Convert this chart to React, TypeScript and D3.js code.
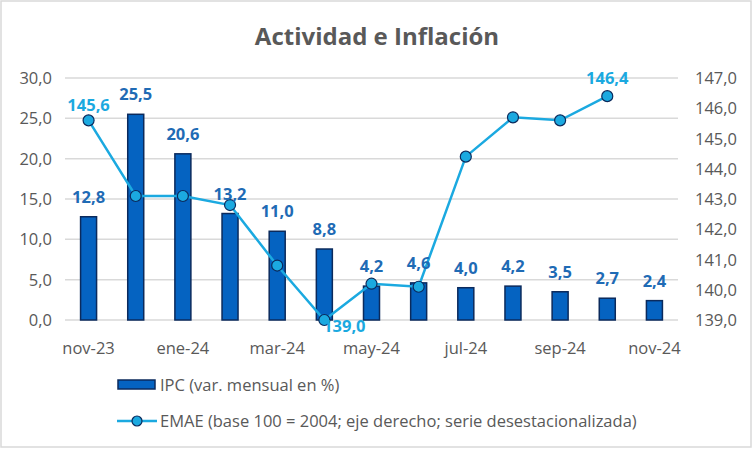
import * as d3 from 'd3';

const months = ['nov-23', 'dic-23', 'ene-24', 'feb-24', 'mar-24', 'abr-24', 'may-24', 'jun-24', 'jul-24', 'ago-24', 'sep-24', 'oct-24', 'nov-24'];
const ipc = [12.8, 25.5, 20.6, 13.2, 11.0, 8.8, 4.2, 4.6, 4.0, 4.2, 3.5, 2.7, 2.4];
const emae: (number | null)[] = [145.6, 143.1, 143.1, 142.8, 140.8, 139.0, 140.2, 140.1, 144.4, 145.7, 145.6, 146.4, null];
const emaeLabelled = ['nov-23', 'abr-24', 'oct-24'];
const leftTicks = [0, 5, 10, 15, 20, 25, 30];
const rightTicks = [139, 140, 141, 142, 143, 144, 145, 146, 147];
const xLabels = ['nov-23', 'ene-24', 'mar-24', 'may-24', 'jul-24', 'sep-24', 'nov-24'];

const W = 754;
const H = 450;
const font = '"Open Sans", sans-serif';
const gray = '#595959';
const barFill = '#0563C1';
const barStroke = '#0B2A5C';
const barLabel = '#1F6BB5';
const lineColor = '#1BA9E0';

const fmt = (v: number) => v.toFixed(1).replace('.', ',');

export default function App() {
  const x = d3.scaleBand<string>().domain(months).range([65, 678]);
  const yL = d3.scaleLinear().domain([0, 30]).range([320, 78]);
  const yR = d3.scaleLinear().domain([139, 147]).range([320, 78]);
  const cx = (m: string) => (x(m) ?? 0) + x.bandwidth() / 2;
  const barW = 16;

  const pts = months
    .map((m, i) => ({ m, v: emae[i] }))
    .filter((d) => d.v !== null) as { m: string; v: number }[];
  const line = d3
    .line<{ m: string; v: number }>()
    .x((d) => cx(d.m))
    .y((d) => yR(d.v));

  // min label sits below-right of its point, the others above
  const labelPos = (d: { m: string; v: number }) =>
    d.m === 'abr-24' ? { dx: 20, dy: 12 } : d.m === 'oct-24' ? { dx: 0, dy: -12 } : { dx: 0, dy: -9 };

  return (
    <svg width={W} height={H} style={{ position: 'absolute', left: 0, top: 0, background: '#fff' }} fontFamily={font}>
      <rect x={1} y={1} width={W - 4} height={H - 4} fill="#fff" stroke="#D9D9D9" strokeWidth={1.5} />
      <text x={377} y={45} textAnchor="middle" fontSize={24} fontWeight="bold" fill={gray}>
        Actividad e Inflación
      </text>

      {leftTicks.map((t) => (
        <g key={t}>
          <line x1={65} x2={678} y1={yL(t)} y2={yL(t)} stroke="#D9D9D9" strokeWidth={1.5} />
          <text x={52} y={yL(t) + 6} textAnchor="end" fontSize={16.5} fill={gray}>
            {fmt(t)}
          </text>
        </g>
      ))}
      {rightTicks.map((t) => (
        <text key={t} x={695} y={yR(t) + 6} fontSize={16.5} fill={gray}>
          {fmt(t)}
        </text>
      ))}
      {xLabels.map((m) => (
        <text key={m} x={cx(m)} y={354} textAnchor="middle" fontSize={16.5} fill={gray}>
          {m}
        </text>
      ))}

      {months.map((m, i) => (
        <rect
          key={m}
          x={cx(m) - barW / 2}
          y={yL(ipc[i])}
          width={barW}
          height={yL(0) - yL(ipc[i])}
          fill={barFill}
          stroke={barStroke}
          strokeWidth={1.5}
        />
      ))}

      <path d={line(pts) ?? ''} fill="none" stroke={lineColor} strokeWidth={2.5} />
      {pts.map((d) => (
        <circle key={d.m} cx={cx(d.m)} cy={yR(d.v)} r={5.5} fill={lineColor} stroke={barStroke} strokeWidth={1.2} />
      ))}

      {months.map((m, i) => (
        <text key={m} x={cx(m)} y={yL(ipc[i]) - 14} textAnchor="middle" fontSize={16.5} fontWeight="bold" fill={barLabel}>
          {fmt(ipc[i])}
        </text>
      ))}
      {pts
        .filter((d) => emaeLabelled.includes(d.m))
        .map((d) => (
          <text
            key={d.m}
            x={cx(d.m) + labelPos(d).dx}
            y={yR(d.v) + labelPos(d).dy}
            textAnchor="middle"
            fontSize={16.5}
            fontWeight="bold"
            fill={lineColor}
          >
            {fmt(d.v)}
          </text>
        ))}

      <rect x={118} y={380} width={37} height={9} fill={barFill} stroke={barStroke} strokeWidth={1.5} />
      <text x={160} y={391} fontSize={16.5} fill={gray}>
        IPC (var. mensual en %)
      </text>
      <line x1={117} x2={157} y1={421} y2={421} stroke={lineColor} strokeWidth={2.5} />
      <circle cx={137} cy={421} r={5} fill={lineColor} stroke={barStroke} strokeWidth={1.2} />
      <text x={160} y={427} fontSize={16.5} fill={gray}>
        EMAE (base 100 = 2004; eje derecho; serie desestacionalizada)
      </text>
    </svg>
  );
}
